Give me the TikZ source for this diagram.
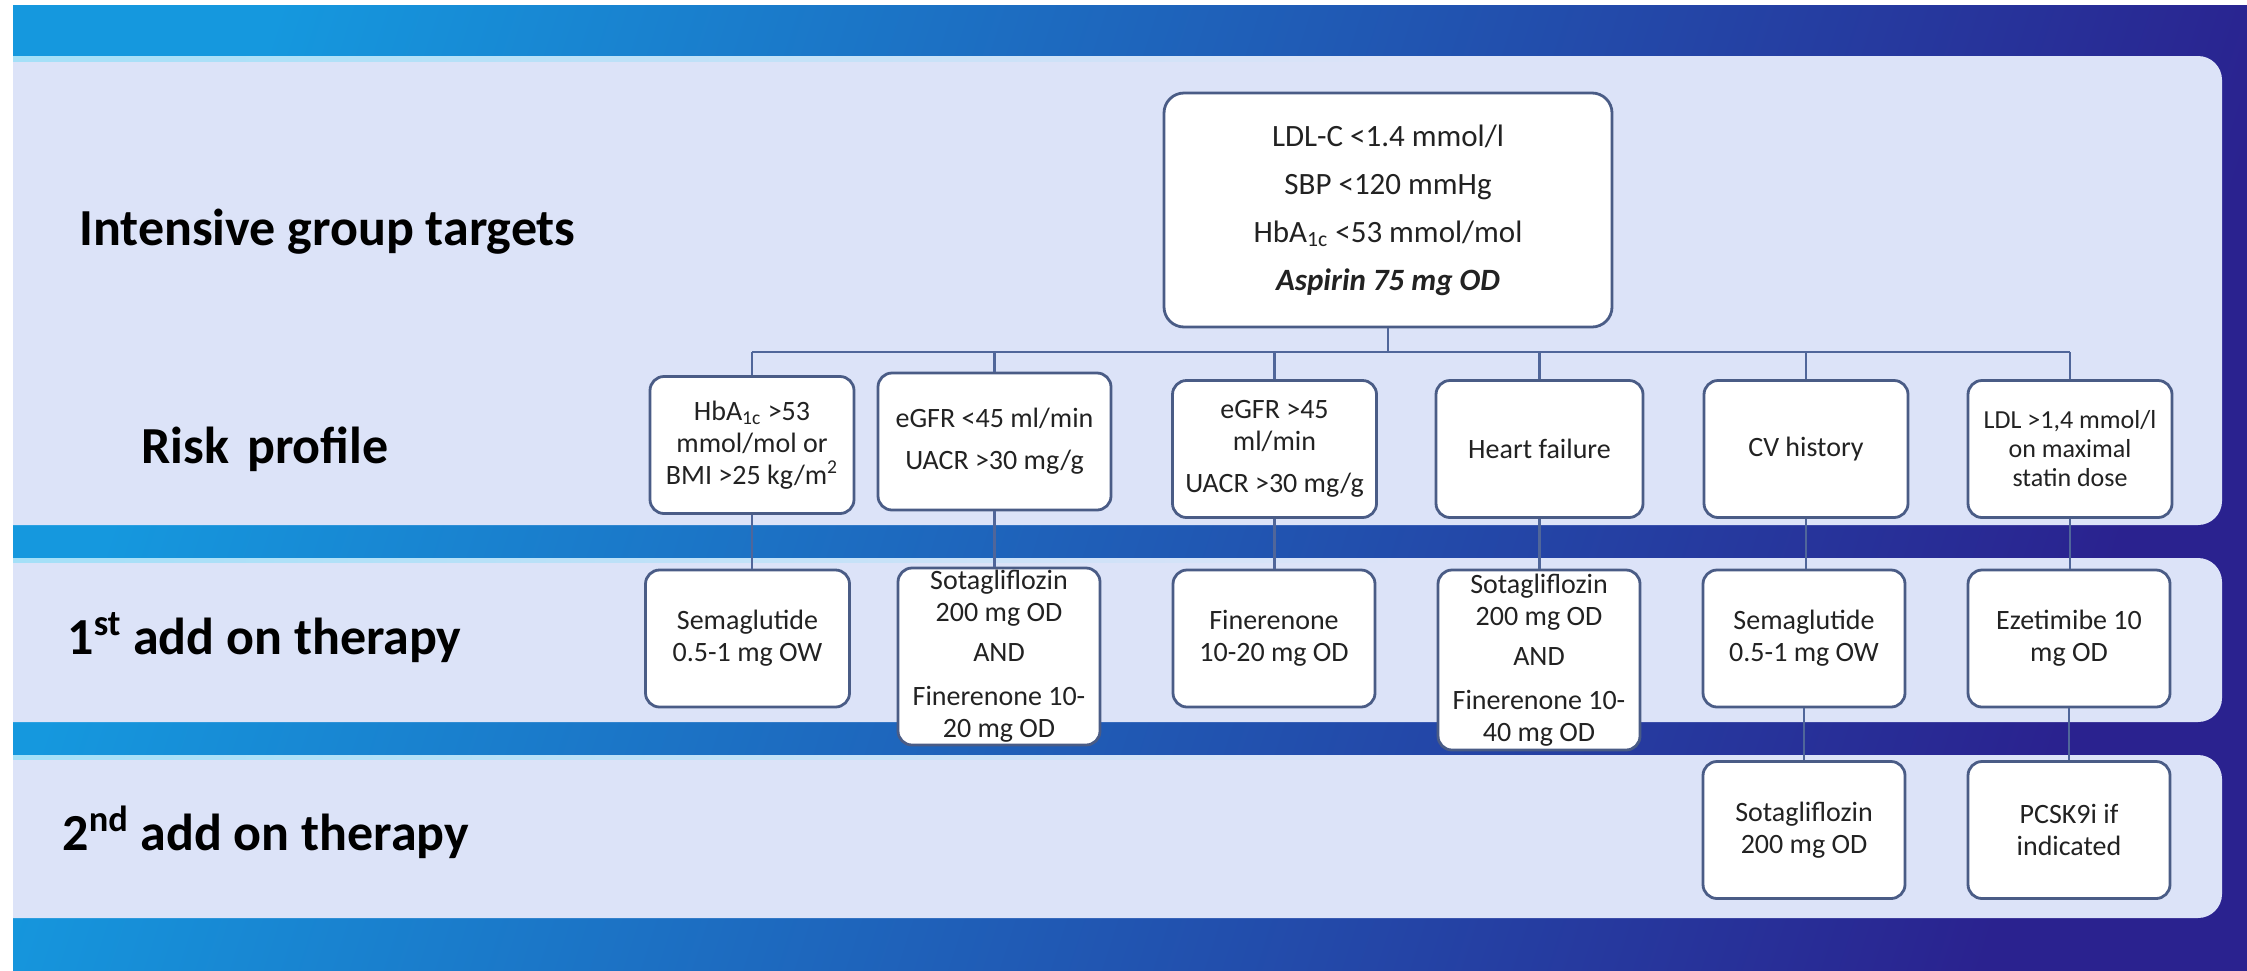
\documentclass[tikz,border=0pt]{standalone}
\usepackage{fontspec}
\setmainfont{Carlito}
\usetikzlibrary{calc}
\definecolor{bandc}{HTML}{DCE3F8}
\definecolor{bgA}{HTML}{1598DE}
\definecolor{bgB}{HTML}{1A62C2}
\definecolor{bgC}{HTML}{2A228F}
\definecolor{hl}{HTML}{A4E0F8}
\definecolor{boxline}{HTML}{4A5C86}
\definecolor{linkc}{HTML}{50669A}
\definecolor{txt}{HTML}{222222}
\begin{document}
\begin{tikzpicture}[x=0.5pt,y=-0.5pt,
  box/.style={draw=boxline, line width=1.4pt, fill=white, rounded corners=7pt,
    align=center, inner sep=1pt, text=txt, font=\fontsize{14}{16}\selectfont,
    minimum width=102pt, minimum height=68.5pt},
  link/.style={draw=linkc, line width=1.1pt},
  rowlabel/.style={font=\fontsize{26}{30}\selectfont\bfseries, text=black, anchor=base west, inner sep=0pt}]

\useasboundingbox (0,0) rectangle (2247,970);
\fill[white] (0,0) rectangle (2247,970);
\shade[left color=bgA, middle color=bgB, right color=bgC, shading angle=72] (13,5) rectangle (2247,970);

% light bands
\fill[bandc, rounded corners=12pt] (-60,56) rectangle (2222,525);
\fill[bandc, rounded corners=12pt] (-60,558) rectangle (2222,722);
\fill[bandc, rounded corners=12pt] (-60,755) rectangle (2222,918);
\shade[left color=hl, right color=bandc] (13,56) rectangle (1400,61);
\shade[left color=hl, right color=bandc] (13,558) rectangle (1400,562);
\shade[left color=hl, right color=bandc] (13,755) rectangle (1400,759);
\fill[white] (0,0) rectangle (13,970);

% row labels
\node[rowlabel] (l1) at (79,245) {Intensive group targets};
\node[rowlabel] (l2) at (141,463) {Risk\hspace{0.12em} profile};
\node[rowlabel] (l3) at (67,654) {1\textsuperscript{st} add on therapy};
\node[rowlabel] (l4) at (62,850) {2\textsuperscript{nd} add on therapy};

% top box
\node[box, minimum width=224pt, minimum height=117pt, rounded corners=10pt,
  font=\fontsize{15.5}{24}\selectfont] (top) at (1388,210)
  {LDL-C <1.4 mmol/l\\SBP <120 mmHg\\HbA\textsubscript{1c} <53 mmol/mol\\\textbf{\textit{Aspirin 75 mg OD}}};

% risk profile
\node[box] (r1) at (752,445) {HbA\textsubscript{1c} >53\\mmol/mol or\\BMI >25 kg/m\textsuperscript{2}};
\node[box, minimum width=116.5pt] (r2) at (994.5,441.5) {eGFR <45 ml/min\\[5pt]UACR >30 mg/g};
\node[box] (r3) at (1274.5,449) {eGFR >45\\ml/min\\[5pt]UACR >30 mg/g};
\node[box, minimum width=103.5pt] (r4) at (1539.5,449) {Heart failure};
\node[box] (r5) at (1806,449) {CV history};
\node[box, font=\fontsize{13}{14.5}\selectfont] (r6) at (2070,449) {LDL >1,4 mmol/l\\on maximal\\statin dose};

% first add-on
\node[box] (t1) at (747.5,638.5) {Semaglutide\\0.5-1 mg OW};
\node[box, minimum width=101pt, minimum height=88.5pt] (t2) at (999,656.5)
  {Sotagliflozin\\200 mg OD\\[4pt]AND\\[6pt]Finerenone 10-\\20 mg OD};
\node[box, minimum width=101pt] (t3) at (1274,638.5) {Finerenone\\10-20 mg OD};
\node[box, minimum width=101pt, minimum height=90pt] (t4) at (1539,660)
  {Sotagliflozin\\200 mg OD\\[4pt]AND\\[6pt]Finerenone 10-\\40 mg OD};
\node[box, minimum width=101pt] (t5) at (1804,638.5) {Semaglutide\\0.5-1 mg OW};
\node[box, minimum width=101pt] (t6) at (2069,638.5) {Ezetimibe 10\\mg OD};

% second add-on
\node[box, minimum width=101pt] (s5) at (1804,830) {Sotagliflozin\\200 mg OD};
\node[box, minimum width=101pt] (s6) at (2069,830) {PCSK9i if\\indicated};

% connectors
\coordinate (bus) at (1388,352);
\draw[link] (top.south) -- (top.south |- bus);
\draw[link] (bus -| r1.north) -- (bus -| r6.north);
\foreach \r in {r1,r2,r3,r4,r5,r6} \draw[link] (bus -| \r.north) -- (\r.north);
\draw[link] (r1.south) -- (r1.south |- t1.north);
\draw[link] (r2.south) -- (r2.south |- t2.north);
\draw[link] (r3.south) -- (r3.south |- t3.north);
\draw[link] (r4.south) -- (r4.south |- t4.north);
\draw[link] (r5.south) -- (r5.south |- t5.north);
\draw[link] (r6.south) -- (r6.south |- t6.north);
\draw[link] (t5.south) -- (t5.south |- s5.north);
\draw[link] (t6.south) -- (t6.south |- s6.north);
\end{tikzpicture}
\end{document}
